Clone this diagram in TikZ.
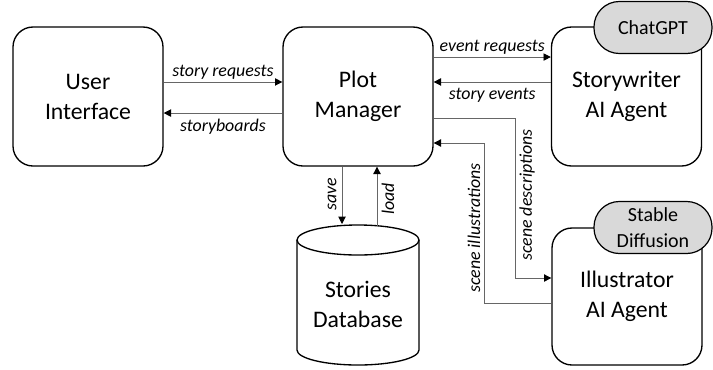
\documentclass[tikz,border=0pt]{standalone}
\usepackage{fontspec}
\setmainfont{Carlito}
\usetikzlibrary{arrows.meta}
\begin{document}
\begin{tikzpicture}[x=0.75pt,y=-0.75pt,
  block/.style={draw=black, line width=1pt, rounded corners=15pt, fill=white,
    minimum width=112.5pt, minimum height=104.25pt, inner sep=0pt, align=center,
    font=\fontsize{17.8}{22.5}\selectfont},
  pill/.style={draw=black, line width=0.9pt, rounded corners=19pt, fill=black!15,
    minimum width=88.5pt, minimum height=39pt, inner sep=0pt, align=center,
    font=\fontsize{15}{19.5}\selectfont},
  conn/.style={draw=black!60, line width=0.7pt, -{Triangle[length=5.5pt,width=5.5pt,fill=black,color=black]}},
  lab/.style={font=\itshape\fontsize{13.4}{15}\selectfont, inner sep=1.5pt},
  labbelow/.style={lab, below, yshift=-2.5pt},
  dbline/.style={draw=black, line width=1pt}]
\useasboundingbox (0,0) rectangle (713,369);

% main blocks
\node[block] (ui) at (88,96.5) {User\\Interface};
\node[block] (pm) at (358,96.5) {Plot\\Manager};
\node[block] (sw) at (626.5,96.5) {Storywriter\\AI Agent};
\node[block, minimum height=102.75pt] (il) at (627,296.5) {Illustrator\\AI Agent};

% model tags
\node[pill] (gpt) at (653,27.5) {ChatGPT};
\node[pill] (sd) at (653,227.5) {Stable\\Diffusion};

% database cylinder
\draw[dbline, fill=white] (297,240) -- (297,350) arc[start angle=180, end angle=0, x radius=61, y radius=15] -- (419,240);
\draw[dbline] (358,240) ellipse[x radius=61, y radius=15];
\node[align=center, font=\fontsize{17.8}{22.5}\selectfont] (db) at (358,304) {Stories\\Database};
\coordinate (dbsave) at (342,224);
\coordinate (dbload) at (377,226);

% user interface <-> plot manager
\draw[conn] ([yshift=10.9pt]ui.east) -- ([yshift=10.9pt]pm.west)
  node[midway, above, lab] {story requests};
\draw[conn] ([yshift=-12.4pt]pm.west) -- ([yshift=-12.4pt]ui.east)
  node[midway, labbelow] {storyboards};

% plot manager <-> storywriter
\draw[conn] ([yshift=29.6pt]pm.east) -- ([yshift=29.6pt]sw.west)
  node[midway, above, lab] {event requests};
\draw[conn] ([yshift=10.9pt]sw.west) -- ([yshift=10.9pt]pm.east)
  node[midway, labbelow] {story events};

% plot manager <-> illustrator
\coordinate (sdc) at (515,278);
\coordinate (sic) at (484,143);
\draw[conn] ([yshift=-16.1pt]pm.east) -| (sdc) -- (sdc -| il.west);
\draw[conn] ([yshift=-4.9pt]il.west) -| (sic) -- (sic -| pm.east);
\node[lab, rotate=90] (sdl) at (527,195) {scene descriptions};
\node[lab, rotate=90] (sil) at (474,228) {scene illustrations};

% plot manager <-> database
\draw[conn] (pm.south -| dbsave) -- (dbsave);
\draw[conn] (dbload) -- (pm.south -| dbload);
\node[lab, rotate=90] (savel) at (332,194) {save};
\node[lab, rotate=90] (loadl) at (388,199) {load};
\end{tikzpicture}
\end{document}
